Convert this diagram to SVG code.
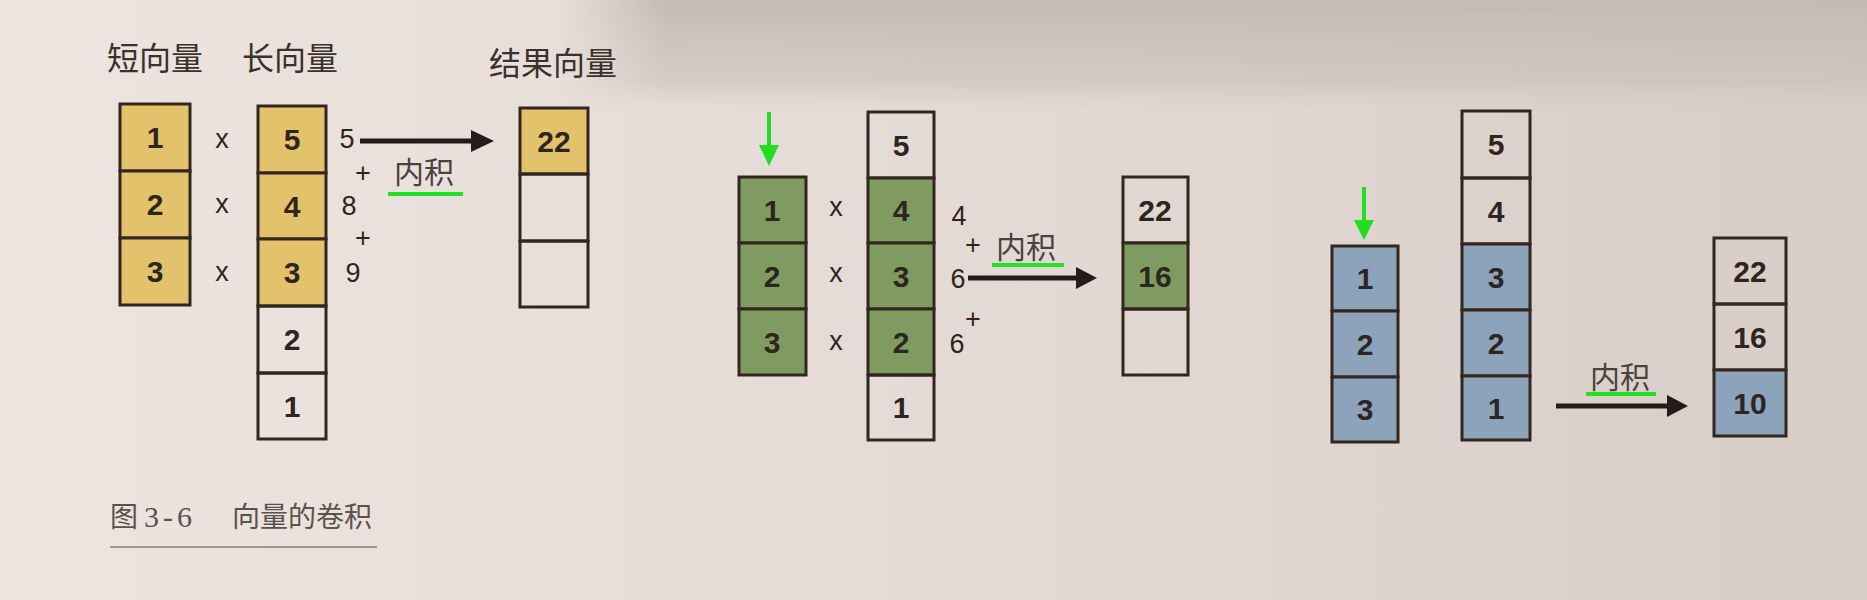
<svg xmlns="http://www.w3.org/2000/svg" width="1867" height="600" viewBox="0 0 1867 600">
<defs>
<linearGradient id="bg" x1="0" y1="0" x2="1" y2="0">
<stop offset="0" stop-color="#eee5e0"/>
<stop offset="0.45" stop-color="#e6dcd7"/>
<stop offset="1" stop-color="#d8ccc7"/>
</linearGradient>
<linearGradient id="band" x1="0" y1="0" x2="0" y2="1">
<stop offset="0" stop-color="#c4b8b3" stop-opacity="0.95"/>
<stop offset="0.75" stop-color="#cbbfba" stop-opacity="0.6"/>
<stop offset="1" stop-color="#d6cbc6" stop-opacity="0"/>
</linearGradient>
<linearGradient id="fadeX" x1="0" y1="0" x2="1" y2="0">
<stop offset="0" stop-color="#fff" stop-opacity="0"/>
<stop offset="0.08" stop-color="#fff" stop-opacity="1"/>
<stop offset="1" stop-color="#fff" stop-opacity="1"/>
</linearGradient>
<mask id="bandMask" maskContentUnits="userSpaceOnUse">
<rect x="560" y="0" width="1307" height="110" fill="url(#fadeX)"/>
</mask>
<style>
.cell{stroke:#33261f;stroke-width:3;fill:none}
.y{fill:#e2c36b}
.g{fill:#7f9b62}
.b{fill:#8ca3bb}
.d{font-family:"Liberation Sans",Arial,sans-serif;font-size:30px;font-weight:bold;fill:#2e2520;text-anchor:middle}
.s{font-family:"Liberation Sans",Arial,sans-serif;font-size:27px;fill:#2e2520;text-anchor:middle}
.t{font-family:"Noto Sans CJK SC",sans-serif;font-size:32px;fill:#3a322d}
.k{font-family:"Noto Sans CJK SC",sans-serif;font-size:30px;fill:#4a423d;text-anchor:middle}
.cap{font-family:"Noto Sans CJK SC",sans-serif;font-size:28px;fill:#5a524d}
.arr{stroke:#231c18;stroke-width:5;fill:none}
.ah{fill:#231c18}
.ul{stroke:#22e022;stroke-width:4}
.ga{stroke:#22dd22;stroke-width:4}
.gh{fill:#22dd22}
</style>
</defs>
<rect width="1867" height="600" fill="url(#bg)"/>
<rect x="560" y="0" width="1307" height="110" fill="url(#band)" mask="url(#bandMask)"/>

<g id="titles">
<text class="t" x="107" y="70">短向量</text>
<text class="t" x="242" y="70">长向量</text>
<text class="t" x="489" y="75">结果向量</text>
</g>

<!-- Section 1 -->
<g id="s1-short">
<rect class="cell y" x="120" y="104" width="70" height="67"/>
<rect class="cell y" x="120" y="171" width="70" height="67"/>
<rect class="cell y" x="120" y="238" width="70" height="67"/>
<text class="d" x="155" y="148">1</text>
<text class="d" x="155" y="215">2</text>
<text class="d" x="155" y="282">3</text>
</g>
<g id="s1-long">
<rect class="cell y" x="258" y="106" width="68" height="67"/>
<rect class="cell y" x="258" y="173" width="68" height="66"/>
<rect class="cell y" x="258" y="239" width="68" height="67"/>
<rect class="cell" x="258" y="306" width="68" height="67"/>
<rect class="cell" x="258" y="373" width="68" height="66"/>
<text class="d" x="292" y="150">5</text>
<text class="d" x="292" y="217">4</text>
<text class="d" x="292" y="283">3</text>
<text class="d" x="292" y="350">2</text>
<text class="d" x="292" y="417">1</text>
</g>
<g id="s1-result">
<rect class="cell y" x="520" y="108" width="68" height="66"/>
<rect class="cell" x="520" y="174" width="68" height="67"/>
<rect class="cell" x="520" y="241" width="68" height="66"/>
<text class="d" x="554" y="152">22</text>
</g>
<g id="s1-ops">
<text class="s" x="222" y="148">x</text>
<text class="s" x="222" y="213">x</text>
<text class="s" x="222" y="281">x</text>
<text class="s" x="347" y="148">5</text>
<text class="s" x="363" y="182">+</text>
<text class="s" x="349" y="215">8</text>
<text class="s" x="363" y="247">+</text>
<text class="s" x="353" y="282">9</text>
<text class="k" x="424" y="183">内积</text>
</g>

<!-- Section 2 -->
<g id="s2-short">
<rect class="cell g" x="739" y="177" width="67" height="66"/>
<rect class="cell g" x="739" y="243" width="67" height="66"/>
<rect class="cell g" x="739" y="309" width="67" height="66"/>
<text class="d" x="772" y="221">1</text>
<text class="d" x="772" y="287">2</text>
<text class="d" x="772" y="353">3</text>
</g>
<g id="s2-long">
<rect class="cell" x="868" y="112" width="66" height="66"/>
<rect class="cell g" x="868" y="178" width="66" height="65"/>
<rect class="cell g" x="868" y="243" width="66" height="66"/>
<rect class="cell g" x="868" y="309" width="66" height="66"/>
<rect class="cell" x="868" y="375" width="66" height="65"/>
<text class="d" x="901" y="156">5</text>
<text class="d" x="901" y="221">4</text>
<text class="d" x="901" y="287">3</text>
<text class="d" x="901" y="353">2</text>
<text class="d" x="901" y="418">1</text>
</g>
<g id="s2-result">
<rect class="cell" x="1123" y="177" width="65" height="66"/>
<rect class="cell g" x="1123" y="243" width="65" height="66"/>
<rect class="cell" x="1123" y="309" width="65" height="66"/>
<text class="d" x="1155" y="221">22</text>
<text class="d" x="1155" y="287">16</text>
</g>
<g id="s2-ops">
<text class="s" x="836" y="216">x</text>
<text class="s" x="836" y="282">x</text>
<text class="s" x="836" y="350">x</text>
<text class="s" x="959" y="225">4</text>
<text class="s" x="973" y="254">+</text>
<text class="s" x="958" y="288">6</text>
<text class="s" x="973" y="328">+</text>
<text class="s" x="957" y="353">6</text>
<text class="k" x="1026" y="258">内积</text>
</g>

<!-- Section 3 -->
<g id="s3-short">
<rect class="cell b" x="1332" y="246" width="66" height="65"/>
<rect class="cell b" x="1332" y="311" width="66" height="66"/>
<rect class="cell b" x="1332" y="377" width="66" height="65"/>
<text class="d" x="1365" y="289">1</text>
<text class="d" x="1365" y="355">2</text>
<text class="d" x="1365" y="420">3</text>
</g>
<g id="s3-long">
<rect class="cell" x="1462" y="111" width="68" height="67"/>
<rect class="cell" x="1462" y="178" width="68" height="66"/>
<rect class="cell b" x="1462" y="244" width="68" height="66"/>
<rect class="cell b" x="1462" y="310" width="68" height="66"/>
<rect class="cell b" x="1462" y="376" width="68" height="64"/>
<text class="d" x="1496" y="155">5</text>
<text class="d" x="1496" y="222">4</text>
<text class="d" x="1496" y="288">3</text>
<text class="d" x="1496" y="354">2</text>
<text class="d" x="1496" y="419">1</text>
</g>
<g id="s3-result">
<rect class="cell" x="1714" y="238" width="72" height="66"/>
<rect class="cell" x="1714" y="304" width="72" height="66"/>
<rect class="cell b" x="1714" y="370" width="72" height="66"/>
<text class="d" x="1750" y="282">22</text>
<text class="d" x="1750" y="348">16</text>
<text class="d" x="1750" y="414">10</text>
</g>
<g id="s3-ops">
<text class="k" x="1620" y="388">内积</text>
</g>

<g id="connectors">
<line class="arr" x1="360" y1="141" x2="473" y2="141"/>
<polygon class="ah" points="471,130 494,141 471,152"/>
<line class="arr" x1="968" y1="278" x2="1078" y2="278"/>
<polygon class="ah" points="1076,267 1097,278 1076,289"/>
<line class="arr" x1="1556" y1="406" x2="1669" y2="406"/>
<polygon class="ah" points="1667,395 1688,406 1667,417"/>
<line class="ga" x1="769" y1="112" x2="769" y2="148"/>
<polygon class="gh" points="759,145 779,145 769,166"/>
<line class="ga" x1="1364" y1="187" x2="1364" y2="223"/>
<polygon class="gh" points="1354,220 1374,220 1364,240"/>
<line class="ul" x1="388" y1="194" x2="463" y2="194"/>
<line class="ul" x1="992" y1="265" x2="1064" y2="265"/>
<line class="ul" x1="1586" y1="394" x2="1656" y2="394"/>
</g>

<g id="caption">
<text class="cap" x="110" y="527">图<tspan font-family="'Liberation Serif',serif" font-size="30px" dx="6" letter-spacing="4">3-6</tspan></text>
<text class="cap" x="232" y="527">向量的卷积</text>
<line x1="110" y1="547" x2="377" y2="547" stroke="#a3958f" stroke-width="2"/>
</g>
</svg>
